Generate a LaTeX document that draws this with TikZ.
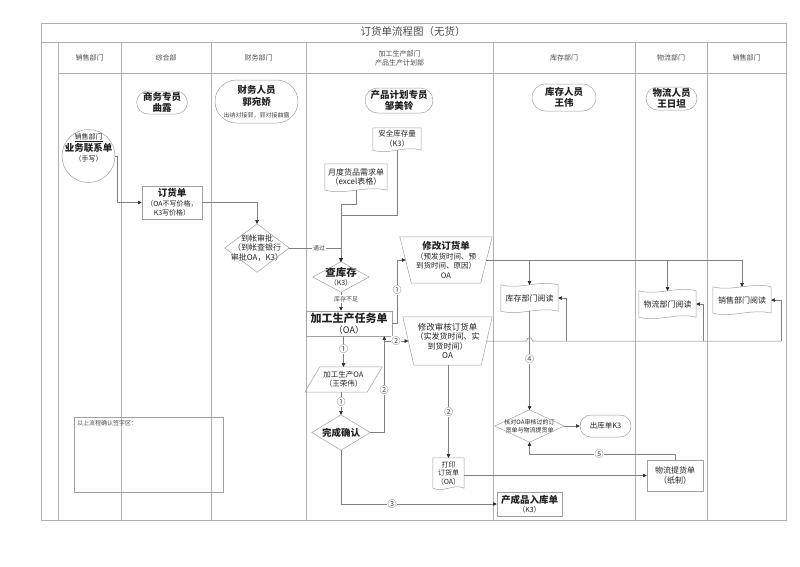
\documentclass[tikz,border=0pt]{standalone}
\usepackage{fontspec}
\setmainfont{Noto Sans CJK SC}
\usetikzlibrary{shapes.misc,shapes.geometric,arrows.meta,calc}
\definecolor{lanec}{HTML}{B0B0B0}
\definecolor{connc}{HTML}{808080}
\definecolor{shpc}{HTML}{A0A0A0}
\definecolor{txtc}{HTML}{222222}
\definecolor{htxt}{HTML}{4A4A4A}
\newcommand\fsz[2]{\fontsize{#1}{#2}\selectfont}
\newcommand\docwave[1]{\draw[shapeline] (#1.south west) -- (#1.north west) -- (#1.north east) -- (#1.south east) .. controls ($(#1.south east)!0.33!(#1.south west)+(0,-5)$) and ($(#1.south east)!0.67!(#1.south west)+(0,5)$) .. (#1.south west);}
\newcommand\tapewave[1]{\draw[shapeline] (#1.north west) .. controls ($(#1.north west)!0.33!(#1.north east)+(0,5)$) and ($(#1.north west)!0.67!(#1.north east)+(0,-5)$) .. (#1.north east) -- (#1.south east) .. controls ($(#1.south east)!0.33!(#1.south west)+(0,-5)$) and ($(#1.south east)!0.67!(#1.south west)+(0,5)$) .. (#1.south west) -- cycle;}
\newcommand\trapz[2]{\draw[shapeline] (#1.north west) -- (#1.north east) -- ($(#1.south east)+(-#2,0)$) -- ($(#1.south west)+(#2,0)$) -- cycle;}
\newcommand\dmd[1]{\draw[shapeline] (#1.north) -- (#1.east) -- (#1.south) -- (#1.west) -- cycle;}
\begin{document}
\begin{tikzpicture}[x=1pt,y=-1pt,
  every node/.style={text=txtc,inner sep=0pt},
  box/.style 2 args={rectangle,minimum width=#1,minimum height=#2,inner sep=0pt,align=center},
  rbox/.style 2 args={box={#1}{#2},draw=shpc,line width=0.5pt},
  stad/.style 2 args={rounded rectangle,minimum width=#1,minimum height=#2,draw=shpc,line width=0.5pt,inner sep=0pt,align=center},
  shapeline/.style={draw=shpc,line width=0.5pt},
  laneline/.style={draw=lanec,line width=0.5pt},
  plain/.style={draw=connc,line width=0.5pt},
  link/.style={draw=connc,line width=0.5pt,-{Triangle[length=3.6pt,width=3.4pt,color=black!85]}},
  lbl/.style={fill=white,inner sep=0.8pt,font=\fsz{9}{10},text=htxt},
  hdr/.style={font=\fsz{7}{9},text=htxt,align=center}]
\useasboundingbox (0,0) rectangle (800,566);
% frame and lanes
\draw[laneline] (41,23) rectangle (786,520);
\draw[laneline] (41,42) -- (786,42);
\draw[laneline] (58,73) -- (786,73);
\foreach \x in {58,121,211,306,493,635,707} \draw[laneline] (\x,42) -- (\x,520);
\node[font=\fsz{10.5}{12},text=htxt] (title) at (413,32) {订货单流程图（无货）};
\node[hdr] (h1) at (89.5,58) {销售部门};
\node[hdr] (h2) at (166,58) {综合部};
\node[hdr] (h3) at (258.5,58) {财务部门};
\node[hdr] (h4) at (399.5,58) {加工生产部门\\产品生产计划部};
\node[hdr] (h5) at (564,58) {库存部门};
\node[hdr] (h6) at (671,58) {物流部门};
\node[hdr] (h7) at (746.5,58) {销售部门};
% role stadiums
\node[stad={48}{23},font=\fsz{9.5}{11.5}\bfseries] (swzy) at (162,102.5) {商务专员\\曲露};
\node[stad={83}{43},font=\fsz{9.5}{12}\bfseries] (cwry) at (256.5,101.5) {财务人员\\郭宛娇\\{\fsz{6}{9}\mdseries\color{htxt}出纳对接郭，郭对接曲露}};
\node[stad={64}{25},font=\fsz{9.5}{11.5}\bfseries] (jhzy) at (399,100.5) {产品计划专员\\邹美铃};
\node[stad={64}{27},font=\fsz{9.5}{11.5}\bfseries] (kcry) at (564,97.5) {库存人员\\王伟};
\node[stad={51}{23},font=\fsz{9.5}{11.5}\bfseries] (wlry) at (671.5,98.5) {物流人员\\王日坦};
% sales contact circle
\node[circle,draw=shpc,line width=0.5pt,minimum size=53pt] (lxd) at (88.5,156) {};
\node[font=\fsz{7}{10.5},align=center] (lxdt) at (88.5,148) {\underline{销售部门}\\{\fsz{9.5}{10.5}\bfseries 业务联系单}\\（手写）};
% order form
\node[rbox={60}{33},font=\fsz{7}{9.5}] (dhd) at (172,202.5) {{\fsz{9.5}{10.5}\bfseries 订货单}\\（OA不写价格，\\K3写价格）};
% finance diamond
\node[box={64}{48},font=\fsz{8}{9.5}] (dz) at (257,248) {到帐审批\\（到帐查银行\\审批OA，K3）};
\dmd{dz}
% documents
\node[box={48}{22},font=\fsz{7.5}{10}] (aq) at (397,139) {安全库存量\\（K3）};
\docwave{aq}
\node[box={62}{26},font=\fsz{8}{9.5}] (yd) at (356,177) {月度货品需求单\\（excel表格）};
\docwave{yd}
% check stock
\node[box={56}{30},font=\fsz{7}{9}] (ck) at (341,277) {{\fsz{10.5}{12}\bfseries 查库存}\\（K3）};
\dmd{ck}
% production task
\node[rbox={86}{25},font=\fsz{9}{11}] (rw) at (349,323.5) {{\fsz{11}{12}\bfseries 加工生产任务单}\\（OA）};
% modify order
\node[box={92}{46},font=\fsz{7.5}{9.5}] (xg) at (446,260) {{\fsz{9.5}{11}\bfseries 修改订货单}\\（预发货时间、预\\到货时间、原因）\\OA};
\trapz{xg}{11.5}
\node[box={89}{48},font=\fsz{8}{9.5}] (xs) at (447.5,341) {{\fsz{8.5}{10}修改审核订货单}\\（实发货时间、实\\到货时间）\\OA};
\trapz{xs}{11}
% production OA
\node[box={77}{25},font=\fsz{7.5}{9}] (jg) at (343.5,379.5) {加工生产OA\\（王荣伟）};
\draw[shapeline] ($(jg.north west)+(15,0)$) -- (jg.north east) -- ($(jg.south east)+(-15,0)$) -- (jg.south west) -- cycle;
% confirm
\node[box={58}{35},font=\fsz{9.5}{11}\bfseries] (wc) at (341,432.5) {完成确认};
\dmd{wc}
% finished goods
\node[rbox={65}{24},font=\fsz{7}{9}] (cp) at (529.5,504) {{\fsz{9.5}{11}\bfseries 产成品入库单}\\（K3）};
% print order
\node[box={31}{30},font=\fsz{7}{8.5}] (dy) at (448.5,473) {打印\\订货单\\（OA）};
\docwave{dy}
% logistics pickup
\node[rbox={56}{31},font=\fsz{8}{9.5}] (wt) at (675,475.5) {物流提货单\\（纸制）};
% check diamond
\node[box={69}{32},font=\fsz{6}{8}] (hd) at (529.5,426) {核对OA审核过的订\\货单与物流提货单};
\dmd{hd}
\node[stad={51}{22},font=\fsz{7.5}{9}] (ck3) at (605.5,426) {出库单K3};
% readers
\node[box={57}{26},font=\fsz{8}{9}] (r1) at (529.5,298) {库存部门阅读};
\tapewave{r1}
\node[box={57}{26},font=\fsz{8}{9}] (r2) at (667.5,304) {物流部门阅读};
\tapewave{r2}
\node[box={58}{26},font=\fsz{8}{9}] (r3) at (742,300) {销售部门阅读};
\tapewave{r3}
% signature area
\node[rbox={149}{75}] (qz) at (148.5,454.5) {};
\node[anchor=north west,font=\fsz{6}{7},text=htxt] (qzt) at (77,420) {以上流程确认签字区：};
% ---------- connectors ----------
\draw[link] (lxd.east) -- ++(1.5,0) |- (dhd.west);
\draw[link] (dhd.east) -| (dz.north);
\draw[link] (dz.east) -| (ck.north);
\node[lbl,font=\fsz{6}{7}] (tg) at (319,248) {通过};
\draw[link] (yd.south) -- ++(0,14) -| (ck.north);
\coordinate (c1) at (397,215);
\draw[link] (aq.south) -- (c1) -| (ck.north);
\draw[link] (ck.south) -- (ck.south |- rw.north);
\node[lbl,font=\fsz{6}{7}] (kcbz) at (346,299) {库存不足};
\coordinate (xgW) at ($(xg.west)+(5.75,0)$);
\draw[link] (rw.east) -- ++(5,0) |- (xgW);
\node[lbl] (n1a) at (397,290) {①};
\coordinate (c2) at ($(rw.south east)+(-8,0)$);
\draw[link] (wc.east) -| (c2);
\node[lbl] (n2a) at (384,390) {②};
\coordinate (c3) at (384,341);
\coordinate (xsW) at ($(xs.west)+(5.5,0)$);
\draw[link] (c3) -- (xsW);
\node[lbl] (n2b) at (396,341) {②};
\draw[link] (jg.north |- rw.south) -- (jg.north);
\node[lbl] (n1b) at (343.5,349) {①};
\draw[link] (wc.north |- jg.south) -- (wc.north);
\node[lbl] (n1c) at (341,402) {①};
\draw[link] (wc.south) |- (cp.west);
\node[lbl] (n3) at (392,504) {③};
\draw[link] (dy.north |- xs.south) -- (dy.north);
\node[lbl] (n2c) at (448.5,412) {②};
\draw[link] (dy.east |- wt.west) -- (wt.west);
\draw[link] (wt.north) -- ++(0,-6) -| (hd.south);
\node[lbl] (n5) at (599,454) {⑤};
\draw[link] (hd.east) -- (ck3.west);
\draw[link] (r1.south) -- (hd.north);
\node[lbl] (n4) at (529.5,359) {④};
% modify order -> readers
\coordinate (xgE) at ($(xg.east)+(-5.75,0)$);
\draw[link] (xgE) -| (r3.north);
\draw[link] (r1.north |- xgE) -- (r1.north);
\draw[link] (r2.north |- xgE) -- (r2.north);
% audited order -> readers
\coordinate (xsE) at ($(xs.east)+(-5.5,0)$);
\coordinate (hopA) at (526.5,341);
\coordinate (hopB) at (532.5,341);
\coordinate (xsR) at (781,341);
\draw[plain] (xsE) -- (hopA) .. controls (526.5,336.5) and (532.5,336.5) .. (hopB) -- (xsR);
\draw[link] (xsR) |- (r3.east);
\coordinate (b1) at (566,341);
\coordinate (b2) at (703,341);
\draw[link] (b1) |- (r1.east);
\draw[link] (b2) |- (r2.east);
\end{tikzpicture}
\end{document}
